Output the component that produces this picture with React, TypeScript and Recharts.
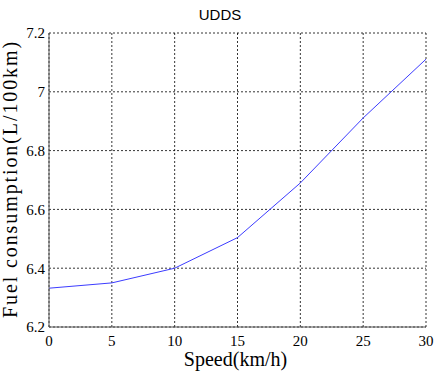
import { LineChart, XAxis, YAxis, Line, CartesianGrid } from "recharts";

const speeds = [0, 5, 10, 15, 20, 25, 30];
const fuel = [6.332, 6.35, 6.4, 6.504, 6.69, 6.911, 7.111];
const xTicks = [0, 5, 10, 15, 20, 25, 30];
const yTicks = [6.2, 6.4, 6.6, 6.8, 7.0, 7.2];

const data = speeds.map((s, i) => ({ speed: s, fuel: fuel[i] }));

const serif = "'Liberation Serif', 'Times New Roman', serif";
const boxColor = "#555555";

const YLabel = (props: any) => {
  const vb = props.viewBox || {};
  return (
    <text
      x={vb.x + 17}
      y={vb.y + vb.height / 2 - 1}
      transform={`rotate(-90, ${vb.x + 17}, ${vb.y + vb.height / 2 - 1})`}
      textAnchor="middle"
      fontFamily={serif}
      fontSize={20}
      letterSpacing={1.9}
      fill="#000"
    >
      Fuel consumption(L/100km)
    </text>
  );
};

const XLabel = (props: any) => {
  const vb = props.viewBox || {};
  return (
    <text
      x={vb.x + vb.width / 2 - 2}
      y={vb.y + 39}
      textAnchor="middle"
      fontFamily={serif}
      fontSize={20}
      fill="#000"
    >
      Speed(km/h)
    </text>
  );
};

const fmt = (v: number) => String(+v.toFixed(1));

export default function App() {
  return (
    <div style={{ position: "absolute", left: 0, top: 0, width: 434, height: 371, background: "#fff" }}>
      <div
        style={{
          position: "absolute",
          left: 0,
          width: 440,
          top: 6,
          textAlign: "center",
          fontFamily: "'Liberation Sans', Arial, sans-serif",
          fontSize: 15,
        }}
      >
        UDDS
      </div>
      <LineChart
        width={434}
        height={371}
        data={data}
        margin={{ top: 33, right: 8, bottom: 0, left: 0 }}
      >
        <CartesianGrid
          stroke="#000"
          strokeDasharray="2 2"
          strokeWidth={0.8}
          horizontalValues={yTicks}
          verticalValues={xTicks}
        />
        <XAxis
          dataKey="speed"
          type="number"
          domain={[0, 30]}
          ticks={xTicks}
          height={44}
          tickLine={false}
          tickSize={0}
          tickMargin={8}
          axisLine={{ stroke: boxColor }}
          tick={{ fontFamily: serif, fontSize: 15, fill: "#000" }}
          label={<XLabel />}
        />
        <XAxis
          xAxisId="top"
          orientation="top"
          type="number"
          domain={[0, 30]}
          height={0}
          tick={false}
          tickLine={false}
          axisLine={{ stroke: boxColor }}
        />
        <YAxis
          type="number"
          domain={[6.2, 7.2]}
          ticks={yTicks}
          width={49}
          tickLine={false}
          tickSize={0}
          tickMargin={4}
          tickFormatter={fmt}
          axisLine={{ stroke: boxColor }}
          tick={{ fontFamily: serif, fontSize: 15, fill: "#000" }}
          label={<YLabel />}
          allowDataOverflow
        />
        <YAxis
          yAxisId="right"
          orientation="right"
          type="number"
          domain={[6.2, 7.2]}
          width={0}
          tick={false}
          tickLine={false}
          axisLine={{ stroke: boxColor }}
        />
        <Line
          type="linear"
          dataKey="fuel"
          stroke="#3c3cff"
          strokeWidth={1}
          dot={false}
          isAnimationActive={false}
        />
      </LineChart>
    </div>
  );
}
